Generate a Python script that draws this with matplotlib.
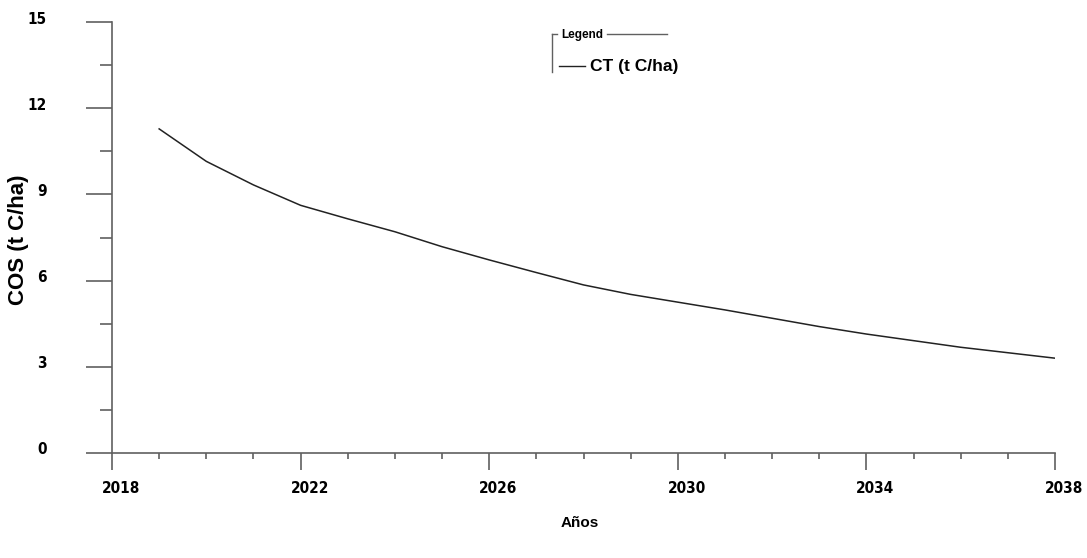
import numpy as np
import matplotlib.pyplot as plt
import matplotlib.transforms as mtrans
from matplotlib.ticker import MultipleLocator

# valores
anos = [2019, 2020, 2021, 2022, 2023, 2024, 2025, 2026, 2027, 2028,
        2029, 2030, 2031, 2032, 2033, 2034, 2035, 2036, 2037, 2038]
ct = [11.28, 10.15, 9.33, 8.62, 8.15, 7.70, 7.18, 6.72, 6.28, 5.85,
      5.52, 5.25, 4.98, 4.69, 4.40, 4.14, 3.91, 3.68, 3.49, 3.30]
xticks = [2018, 2022, 2026, 2030, 2034, 2038]
yticks = [0, 3, 6, 9, 12, 15]

plt.rcParams['font.family'] = ['DejaVu Sans']

fig = plt.figure(figsize=(10.87, 5.58), dpi=100)
ax = fig.add_axes([112/1087, 1-453/558, (1055-112)/1087, (453-22)/558])

ax.plot(anos, ct, color='#222222', lw=1.1, label='CT (t C/ha)')

ax.set_xlim(2018, 2038)
ax.set_ylim(0, 15)
ax.set_xticks(xticks)
ax.set_yticks(yticks)
ax.xaxis.set_minor_locator(MultipleLocator(1))
ax.yaxis.set_minor_locator(MultipleLocator(1.5))

for s in ['top', 'right']:
    ax.spines[s].set_visible(False)
for s in ['left', 'bottom']:
    ax.spines[s].set_color('#606060')
    ax.spines[s].set_linewidth(1.2)

ax.tick_params(axis='y', which='major', length=19, width=1.2, color='#606060', pad=28,
               labelsize=11)
ax.tick_params(axis='y', which='minor', length=9, width=1.2, color='#606060')
ax.tick_params(axis='x', which='major', length=12, width=1.2, color='#606060', pad=8,
               labelsize=11)
ax.tick_params(axis='x', which='minor', length=4, width=1.2, color='#606060')

dx = mtrans.ScaledTranslation(0.09, 0, fig.dpi_scale_trans)
dy = mtrans.ScaledTranslation(0, 0.045, fig.dpi_scale_trans)
for lab in ax.get_xticklabels():
    lab.set_fontweight('bold')
    lab.set_fontstretch('condensed')
    lab.set_transform(lab.get_transform() + dx)
for lab in ax.get_yticklabels():
    lab.set_fontweight('bold')
    lab.set_fontstretch('condensed')
    lab.set_transform(lab.get_transform() + dy)

fig.text(19/1087, 1-240/558, 'COS (t C/ha)', rotation=90, fontsize=16, fontweight='bold',
         family=['Liberation Sans', 'DejaVu Sans'], ha='center', va='center')
fig.text(580/1087, 1-523/558, 'Años', fontsize=11, fontweight='bold',
         family=['Liberation Sans', 'DejaVu Sans'], ha='center', va='center')

# leyenda estilo recuadro abierto
fx = lambda p: p/1087
fy = lambda p: 1-p/558
fig.add_artist(plt.Line2D([fx(552), fx(552)], [fy(34), fy(72)], color='#606060', lw=1))
fig.add_artist(plt.Line2D([fx(552), fx(557)], [fy(34), fy(34)], color='#606060', lw=1))
fig.add_artist(plt.Line2D([fx(607), fx(667)], [fy(34), fy(34)], color='#606060', lw=1))
fig.text(fx(561), fy(35), 'Legend', fontsize=8.5, fontweight='bold',
         family=['Liberation Sans', 'DejaVu Sans'], va='center')
fig.add_artist(plt.Line2D([fx(559), fx(585)], [fy(66), fy(66)], color='#222222', lw=1))
fig.text(fx(590), fy(67), 'CT (t C/ha)', fontsize=12.5, fontweight='bold',
         family=['Liberation Sans', 'DejaVu Sans'], va='center')

fig.savefig('out.png', dpi=100)
